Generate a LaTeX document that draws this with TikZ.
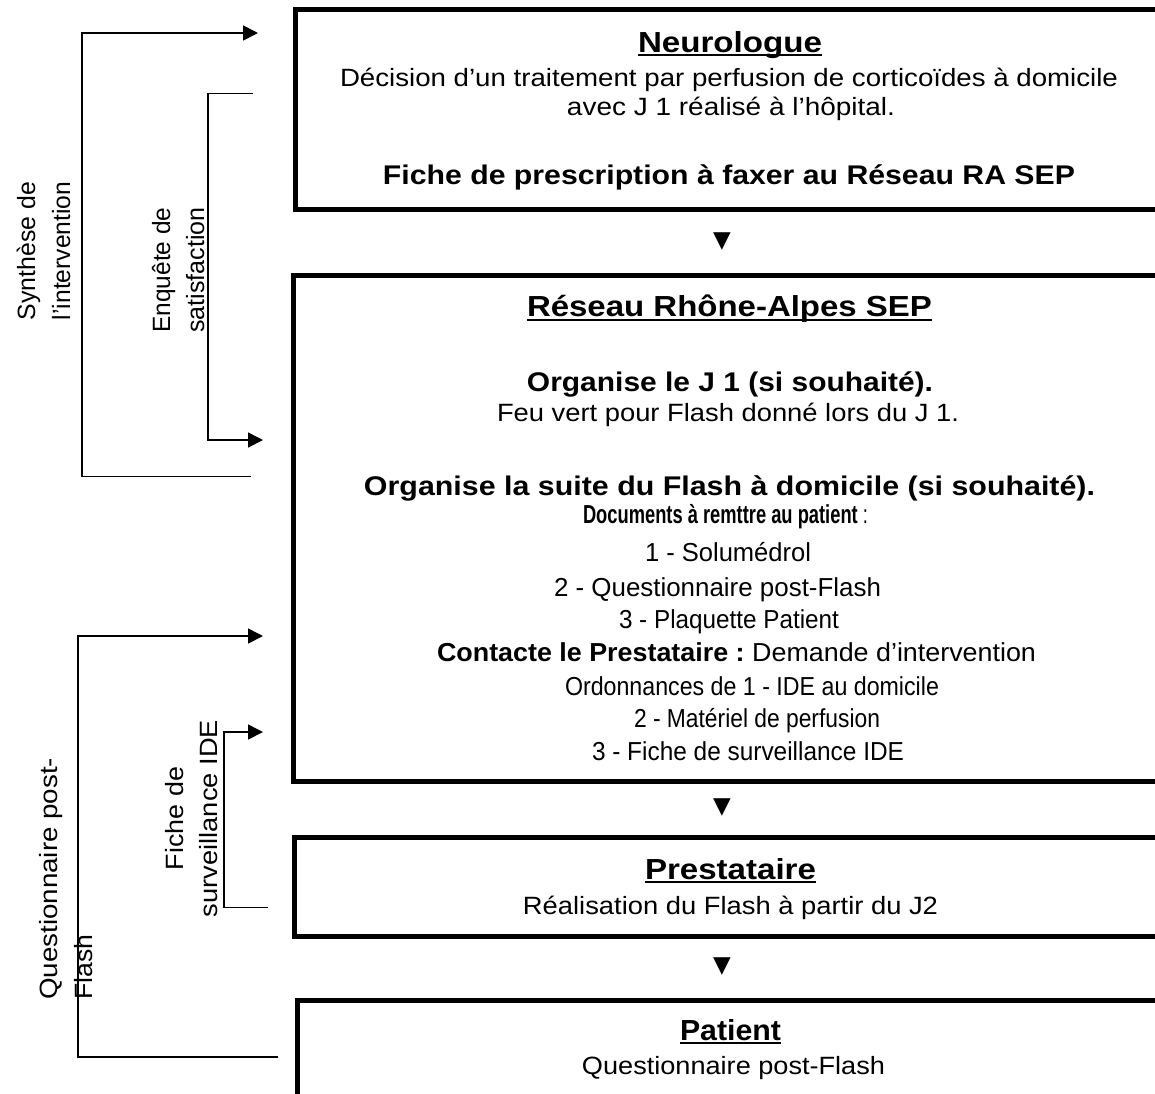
\documentclass[tikz,border=0pt]{standalone}
\usepackage{graphicx}
\usepackage{fontspec}
\setmainfont{Liberation Sans}
\newfontfamily\symfont{DejaVu Sans}
\usetikzlibrary{arrows.meta}
\newcommand\fw[2]{\resizebox{#1pt}{\height}{#2}}
\tikzset{
  boxn/.style={draw, line width=5pt, outer sep=0pt, inner sep=0pt, anchor=north west, minimum width=1000pt},
  link/.style={line width=1.7pt},
  arr/.style={link, -{Triangle[length=15pt,width=15pt]}},
  reg/.style={inner sep=0pt, anchor=base, font=\fontsize{25}{29}\selectfont},
  lst/.style={inner sep=0pt, anchor=base, font=\fontsize{26}{30}\selectfont},
  bld/.style={inner sep=0pt, anchor=base, font=\fontsize{27}{31}\selectfont\bfseries},
  ttl/.style={inner sep=0pt, anchor=base, font=\fontsize{29}{33}\selectfont\bfseries},
  side/.style={inner sep=0pt, anchor=base, rotate=90, font=\fontsize{25}{29}\selectfont},
  ul/.style={line width=2.2pt},
  tri/.style={inner sep=0pt, font=\symfont\fontsize{23}{23}\selectfont},
}
\begin{document}
\begin{tikzpicture}[x=1pt,y=-1pt]
\useasboundingbox (0,0) rectangle (1155,1093);
\clip (0,0) rectangle (1155,1093);

% boxes
\node[boxn, minimum height=200.5pt] (neuro) at (295,9) {};
\node[boxn, minimum height=506pt] (reseau) at (293.5,275.5) {};
\node[boxn, minimum height=99pt] (prest) at (294.5,837.5) {};
\node[boxn, minimum height=150pt] (patient) at (297.5,1000) {};

% flow markers
\node[tri] (t1) at (722,242) {▼};
\node[tri] (t2) at (722,808) {▼};
\node[tri] (t3) at (722,967) {▼};

% Neurologue
\node[ttl] (n1) at (730,52) {\fw{184}{Neurologue}};
\draw[ul] ([yshift=-3pt]n1.base west) -- ([yshift=-3pt]n1.base east);
\node[reg] (n2) at (729,86) {\fw{778}{Décision d’un traitement par perfusion de corticoïdes à domicile}};
\node[reg] (n3) at (731,115) {\fw{328}{avec J 1 réalisé à l’hôpital.}};
\node[bld] (n4) at (729,184) {\fw{692}{Fiche de prescription à faxer au Réseau RA SEP}};

% Reseau
\node[ttl] (r1) at (729.5,316) {\fw{405}{Réseau Rhône-Alpes SEP}};
\draw[ul] ([yshift=-4pt]r1.base west) -- ([yshift=-4pt]r1.base east);
\node[bld] (r2) at (730,391) {\fw{406}{Organise le J 1 (si souhaité).}};
\node[reg] (r3) at (728,421) {\fw{462}{Feu vert pour Flash donné lors du J 1.}};
\node[bld] (r4) at (729.5,495) {\fw{731}{Organise la suite du Flash à domicile (si souhaité).}};
\node[lst] (r5) at (725.5,523) {\fw{285}{\bfseries Documents à remttre au patient\mdseries\ :}};
\node[lst] (r6) at (728,561) {\fw{166}{1 - Solumédrol}};
\node[lst] (r7) at (717.5,596) {\fw{327}{2 - Questionnaire post-Flash}};
\node[lst] (r8) at (729,628) {\fw{220}{3 - Plaquette Patient}};
\node[lst] (r9) at (736.5,661) {\fw{599}{\bfseries Contacte le Prestataire :\mdseries\ Demande d’intervention}};
\node[lst] (r10) at (752,695) {\fw{374}{Ordonnances de 1 - IDE au domicile}};
\node[lst] (r11) at (757,727) {\fw{246}{2 - Matériel de perfusion}};
\node[lst] (r12) at (748,760) {\fw{312}{3 - Fiche de surveillance IDE}};

% Prestataire
\node[ttl] (p1) at (730.5,879) {\fw{171}{Prestataire}};
\draw[ul] ([yshift=-3pt]p1.base west) -- ([yshift=-3pt]p1.base east);
\node[reg] (p2) at (730.5,914) {\fw{415}{Réalisation du Flash à partir du J2}};

% Patient
\node[ttl] (q1) at (730.5,1040) {\fw{101}{Patient}};
\draw[ul] ([yshift=-3pt]q1.base west) -- ([yshift=-3pt]q1.base east);
\node[reg] (q2) at (733.5,1074) {\fw{303}{Questionnaire post-Flash}};

% side labels
\node[side] (s1) at (35,251) {\fw{138}{Synthèse de}};
\node[side] (s2) at (70,251) {\fw{138}{l’intervention}};
\node[side] (e1) at (170,270) {\fw{125}{Enquête de}};
\node[side] (e2) at (204,270) {\fw{125}{satisfaction}};
\node[side, anchor=base west] (k1) at (57,1000) {\fw{242}{Questionnaire post-}};
\node[side, anchor=base west] (k2) at (92,1000) {\fw{65}{Flash}};
\node[side] (f1) at (183,818.5) {\fw{103}{Fiche de}};
\node[side] (f2) at (217,818.5) {\fw{197}{surveillance IDE}};

% bracket connectors
\coordinate (syS) at (251,476.5);
\coordinate (syE) at (258,33);
\draw[arr] (syS) -- (82,476.5) -- (82,33) -- (syE);
\coordinate (enS) at (253,93.5);
\coordinate (enE) at (263,440);
\draw[arr] (enS) -- (208,93.5) -- (208,440) -- (enE);
\coordinate (quS) at (278,1057);
\coordinate (quE) at (263,636);
\draw[arr] (quS) -- (78,1057) -- (78,636) -- (quE);
\coordinate (fiS) at (268,907.5);
\coordinate (fiE) at (263,732);
\draw[arr] (fiS) -- (224,907.5) -- (224,732) -- (fiE);
\end{tikzpicture}
\end{document}
